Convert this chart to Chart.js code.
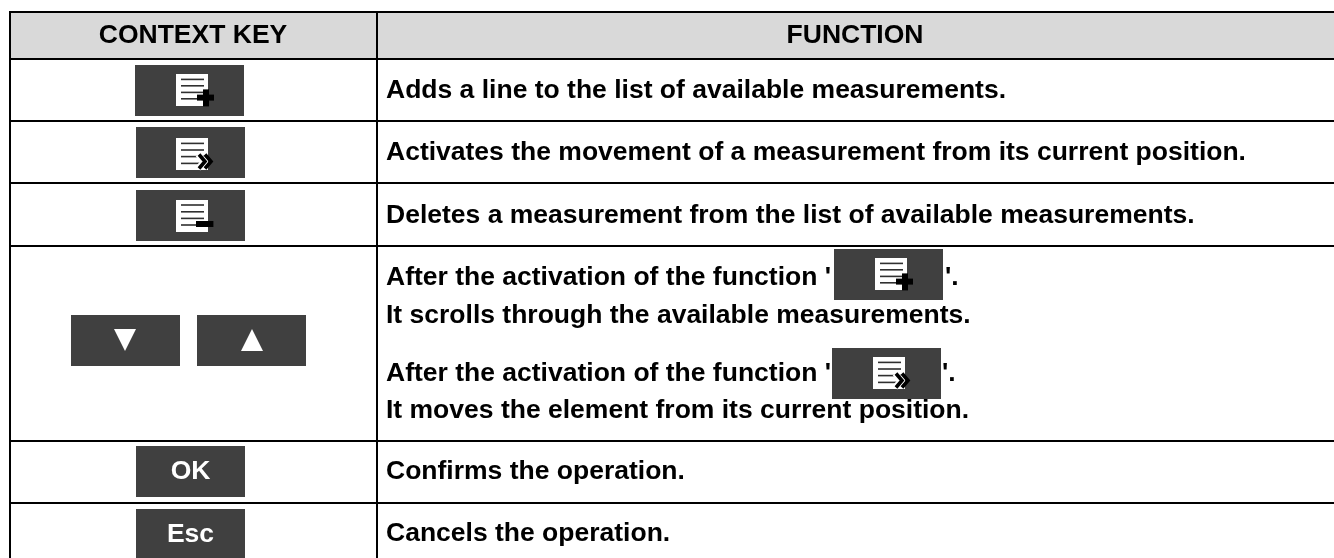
<!DOCTYPE html>
<html>
<head>
<meta charset="utf-8">
<style>
  html, body { margin: 0; padding: 0; background: #fff; overflow: hidden; }
</style>
<script src="https://cdn.jsdelivr.net/npm/chart.js@4"></script>
</head>
<body>
<canvas id="myChart" width="1334" height="558" style="display:block"></canvas>
<script>
// table content
const headers = ['CONTEXT KEY', 'FUNCTION'];
const functionLines = [
    'Adds a line to the list of available measurements.',
    'Activates the movement of a measurement from its current position.',
    'Deletes a measurement from the list of available measurements.',
    "After the activation of the function '",
    "'.",
    'It scrolls through the available measurements.',
    "After the activation of the function '",
    "'.",
    'It moves the element from its current position.',
    'Confirms the operation.',
    'Cancels the operation.'
];
const keyLabels = ['OK', 'Esc'];

// table grid, in scale units
const columnEdges = [10, 377];
const rowEdges = [12, 59, 121, 183, 246, 441, 503];

// where things sit on the two linear scales
const headerX = [193, 855];
const lineX = [386, 386, 386, 386, 945, 386, 386, 942, 386, 386, 386];
const lineY = [98, 160, 223, 285, 285, 323, 381, 381, 418, 479, 541];
const keyLabelX = [190.5, 190.5];
const keyLabelY = [479, 542];

const buttonBars = [
    { x: 189.5, y: [65, 116] },
    { x: 190.5, y: [127, 178] },
    { x: 190.5, y: [190, 241] },
    { x: 125.5, y: [315, 366] },
    { x: 251.5, y: [315, 366] },
    { x: 190.5, y: [446, 497] },
    { x: 190.5, y: [509, 560] },
    { x: 888.5, y: [249, 300] },
    { x: 886.5, y: [348, 399] }
];
const headerBar = [{ x: 671.5, y: [12, 59] }];

const addIconPoints = [{ x: 196, y: 92 }, { x: 895, y: 276 }];
const moveIconPoints = [{ x: 196, y: 156 }, { x: 893, y: 375 }];
const deleteIconPoints = [{ x: 196, y: 218 }];
const downPoints = [{ x: 125, y: 340 }];
const upPoints = [{ x: 252, y: 340 }];

const fontBold = 'bold 26.5px "Liberation Sans", Arial, sans-serif';

function newIcon(w, h) {
    const c = document.createElement('canvas');
    c.width = w;
    c.height = h;
    return c;
}

// the white page with four text lines, used by the three list icons
function pageIcon(lines) {
    const c = newIcon(40, 36);
    const g = c.getContext('2d');
    g.fillStyle = '#ffffff';
    g.fillRect(0, 0, 32, 32);
    g.fillStyle = '#303030';
    lines.forEach(y => g.fillRect(5, y, 23, 1.6));
    return c;
}

function addIcon() {
    const c = pageIcon([4.6, 11, 17.6, 24]);
    const g = c.getContext('2d');
    g.fillStyle = '#000000';
    g.fillRect(21, 20.6, 17, 6);
    g.fillRect(27, 15.4, 6, 17);
    return c;
}

function moveIcon() {
    const c = pageIcon([4.6, 11.2, 17.8, 24.6]);
    const g = c.getContext('2d');
    const chevron = x => {
        g.beginPath();
        g.moveTo(x, 16.5);
        g.lineTo(x + 6, 23.5);
        g.lineTo(x, 30.5);
    };
    g.strokeStyle = '#ffffff';
    g.lineWidth = 6;
    chevron(22);
    g.stroke();
    g.strokeStyle = '#000000';
    g.lineWidth = 3.6;
    chevron(23);
    g.stroke();
    chevron(29);
    g.stroke();
    return c;
}

function deleteIcon() {
    const c = pageIcon([4.2, 11, 17.6, 24.2]);
    const g = c.getContext('2d');
    g.fillStyle = '#000000';
    g.fillRect(20, 21, 17.4, 6);
    return c;
}

function triangleIcon(up) {
    const c = newIcon(22, 22);
    const g = c.getContext('2d');
    g.fillStyle = '#ffffff';
    g.beginPath();
    if (up) {
        g.moveTo(11, 0);
        g.lineTo(22, 22);
        g.lineTo(0, 22);
    } else {
        g.moveTo(0, 0);
        g.lineTo(22, 0);
        g.lineTo(11, 22);
    }
    g.closePath();
    g.fill();
    return c;
}

// Chart.js has no table text, so write it through the scales
const tableText = {
    id: 'tableText',
    afterDatasetsDraw(chart) {
        const { ctx, scales } = chart;
        ctx.save();
        ctx.font = fontBold;
        ctx.textBaseline = 'alphabetic';

        ctx.fillStyle = '#000000';
        ctx.textAlign = 'center';
        headers.forEach((text, i) => {
            ctx.fillText(text, scales.x.getPixelForValue(headerX[i]), scales.y.getPixelForValue(43));
        });

        ctx.textAlign = 'left';
        functionLines.forEach((text, i) => {
            ctx.fillText(text, scales.x.getPixelForValue(lineX[i]), scales.y.getPixelForValue(lineY[i]));
        });

        ctx.fillStyle = '#ffffff';
        ctx.textAlign = 'center';
        keyLabels.forEach((text, i) => {
            ctx.fillText(text, scales.x.getPixelForValue(keyLabelX[i]), scales.y.getPixelForValue(keyLabelY[i]));
        });
        ctx.restore();
    }
};

function iconDataset(points, icon) {
    return {
        type: 'scatter',
        data: points,
        pointStyle: icon,
        pointRadius: 10,
        order: 0
    };
}

const edgeTicks = edges => scale => {
    scale.ticks = edges.map(value => ({ value: value }));
};

const ctx = document.getElementById('myChart').getContext('2d');
const myChart = new Chart(ctx, {
    type: 'bar',
    data: {
        datasets: [
            { data: headerBar, backgroundColor: '#d9d9d9', barThickness: 1325, grouped: false, inflateAmount: 0, order: 2 },
            { data: buttonBars, backgroundColor: '#404040', barThickness: 109, grouped: false, inflateAmount: 0, order: 1 },
            iconDataset(addIconPoints, addIcon()),
            iconDataset(moveIconPoints, moveIcon()),
            iconDataset(deleteIconPoints, deleteIcon()),
            iconDataset(downPoints, triangleIcon(false)),
            iconDataset(upPoints, triangleIcon(true))
        ]
    },
    options: {
        responsive: false,
        animation: false,
        events: [],
        layout: {
            autoPadding: false,
            padding: { left: 9, top: 11, right: 0, bottom: 0 }
        },
        plugins: {
            legend: { display: false },
            title: { display: false },
            tooltip: { enabled: false }
        },
        scales: {
            x: {
                type: 'linear',
                position: 'top',
                offset: false,
                min: 9,
                max: 1334,
                afterBuildTicks: edgeTicks(columnEdges),
                ticks: { display: false },
                border: { display: false },
                grid: { color: '#000000', lineWidth: 2, drawTicks: false, offset: false, z: 1 }
            },
            y: {
                type: 'linear',
                reverse: true,
                min: 11,
                max: 558,
                afterBuildTicks: edgeTicks(rowEdges),
                ticks: { display: false },
                border: { display: false },
                grid: { color: '#000000', lineWidth: 2, drawTicks: false, z: 1 }
            }
        }
    },
    plugins: [tableText]
});
</script>
</body>
</html>
